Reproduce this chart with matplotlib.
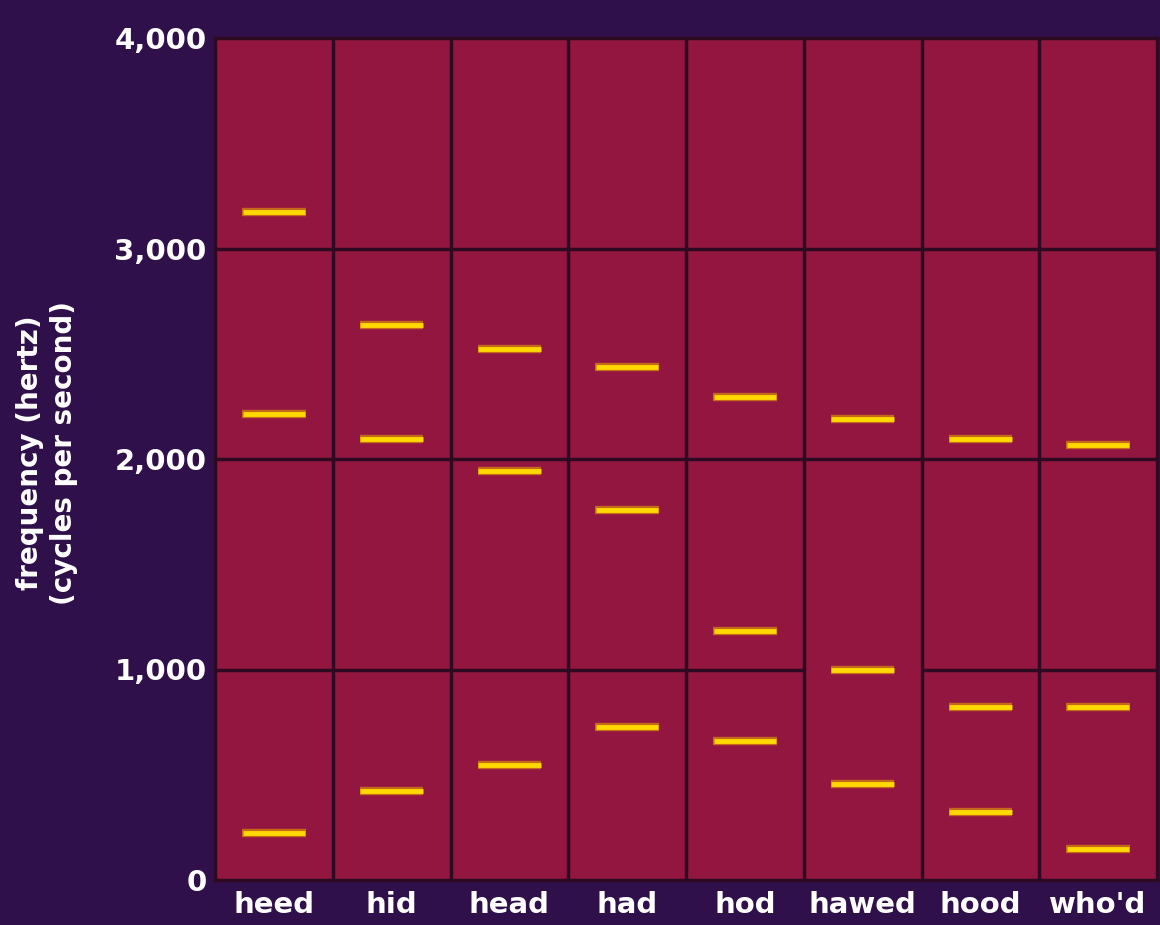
import matplotlib
matplotlib.use("Agg")
import matplotlib.pyplot as plt

words = ["heed", "hid", "head", "had", "hod", "hawed", "hood", "who'd"]
formant1 = [225, 423, 546, 727, 660, 456, 323, 147]
formant2 = [2215, 2095, 1943, 1758, 1183, 998, 822, 822]
formant3 = [3175, 2637, 2523, 2437, 2295, 2190, 2095, 2067]
yticks = [0, 1000, 2000, 3000, 4000]
ytick_labels = ["0", "1,000", "2,000", "3,000", "4,000"]
grid_gaps = [("hawed", 1000)]

BG = "#30104a"
PLOT = "#921640"
GRID = "#2e0a22"
YEL = "#ffd800"
ORG = "#e8a000"

fig = plt.figure(figsize=(11.6, 9.25), dpi=100, facecolor=BG)
ax = fig.add_axes([215/1160, 1-880/925, (1157-215)/1160, (880-38)/925])
ax.set_facecolor(PLOT)
ax.set_xlim(0, len(words))
ax.set_ylim(0, 4000)

# grid segments per column
for i, w in enumerate(words):
    for yv in yticks[1:-1]:
        if (w, yv) in grid_gaps:
            continue
        ax.hlines(yv, i, i + 1, color=GRID, lw=2.5, zorder=2)
for i in range(1, len(words)):
    ax.axvline(i, color=GRID, lw=2.5, zorder=2)

half = 0.27
for i in range(len(words)):
    for f in (formant1[i], formant2[i], formant3[i]):
        ax.hlines(f, i + 0.5 - half, i + 0.5 + half, color=ORG, lw=6, zorder=3, alpha=0.6)
        ax.hlines(f, i + 0.5 - half + 0.005, i + 0.5 + half - 0.005, color=YEL, lw=3.5, zorder=4)

for s in ax.spines.values():
    s.set_color(GRID)
    s.set_linewidth(2.5)

ax.set_yticks(yticks)
ax.set_yticklabels(ytick_labels)
ax.set_xticks([i + 0.5 for i in range(len(words))])
ax.set_xticklabels(words)
ax.tick_params(axis="both", length=0, colors="white")
ax.tick_params(axis="y", pad=6, labelsize=21)
ax.tick_params(axis="x", pad=8, labelsize=21)
for lab in ax.get_xticklabels():
    lab.set_fontweight("bold")
for lab in ax.get_yticklabels():
    lab.set_fontweight("semibold")

fig.text(47/1160, 1-453/925, "frequency (hertz)\n(cycles per second)", rotation=90,
         ha="center", va="center", color="white", fontsize=20, fontweight="semibold",
         linespacing=1.3)

fig.savefig("out.png", dpi=100, facecolor=BG)
